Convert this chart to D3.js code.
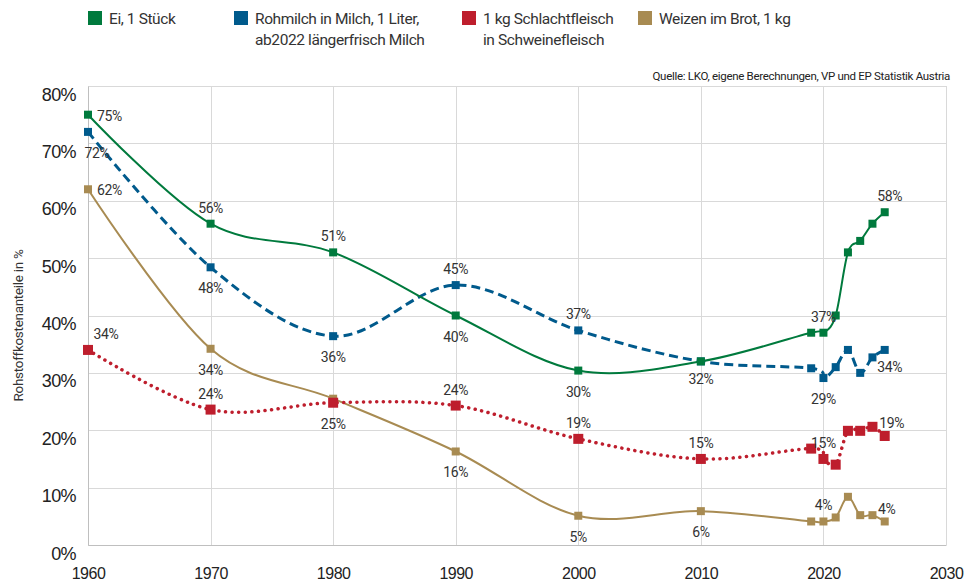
<html>
<head>
  <script src="https://cdnjs.cloudflare.com/ajax/libs/d3/7.8.5/d3.min.js"></script>
  <style>
    body { margin: 0; background: #fff; font-family: Roboto, "Noto Sans", sans-serif; }
    .grid line { stroke: #d9d9d9; shape-rendering: crispEdges; }
    .tick text { fill: #222; }
    .lbl { font-size: 14px; fill: #333; letter-spacing: -0.4px; }
  </style>
</head>
<body>
  <div id="chart"></div>
  <script>
    // data
    var years = [1960, 1970, 1980, 1990, 2000, 2010, 2019, 2020, 2021, 2022, 2023, 2024, 2025];
    var ei = [75, 56, 51, 40, 30.4, 32, 37, 37, 40, 51, 53, 56, 58];
    var milch = [72, 48.4, 36.4, 45.3, 37.4, 32, 30.8, 29.1, 31, 34, 30, 32.7, 34];
    var fleisch = [34, 23.6, 24.8, 24.3, 18.5, 15, 16.8, 15, 14, 19.9, 19.9, 20.6, 19];
    var weizen = [62, 34.2, 25.5, 16.3, 5.1, 5.9, 4.1, 4.1, 4.8, 8.4, 5.2, 5.2, 4.1];
    var xTicks = [1960, 1970, 1980, 1990, 2000, 2010, 2020, 2030];
    var yTicks = [0, 10, 20, 30, 40, 50, 60, 70, 80];

    // which points get a label, and where
    var eiLabels = [{i: 0, pos: "right"}, {i: 1, pos: "above"}, {i: 2, pos: "above"}, {i: 3, pos: "below"},
      {i: 4, pos: "below"}, {i: 7, pos: "above"}, {i: 12, pos: "above", dx: 5}];
    var milchLabels = [{i: 0, pos: "below", dx: 9}, {i: 1, pos: "below"}, {i: 2, pos: "below"}, {i: 3, pos: "above"},
      {i: 4, pos: "above"}, {i: 5, pos: "below", dy: -3}, {i: 7, pos: "below"}, {i: 12, pos: "below", dx: 5, dy: -4}];
    var fleischLabels = [{i: 0, pos: "above", dx: 18}, {i: 1, pos: "above"}, {i: 2, pos: "below"}, {i: 3, pos: "above"},
      {i: 4, pos: "above"}, {i: 5, pos: "above"}, {i: 7, pos: "above"}, {i: 12, pos: "above", dx: 7, dy: 3}];
    var weizenLabels = [{i: 0, pos: "right"}, {i: 1, pos: "below"}, {i: 3, pos: "below"}, {i: 4, pos: "below"},
      {i: 5, pos: "below"}, {i: 7, pos: "above"}, {i: 12, pos: "above", dx: 2, dy: 4}];

    var series = [
      {name: "Weizen im Brot, 1 kg", values: weizen, labels: weizenLabels, color: "#a88b52", dash: null, width: 2, size: 8},
      {name: "1 kg Schlachtfleisch|in Schweinefleisch", values: fleisch, labels: fleischLabels, color: "#be1e2d", dash: "0.1 6.5", width: 3.5, size: 10},
      {name: "Rohmilch in Milch, 1 Liter,|ab2022 längerfrisch Milch", values: milch, labels: milchLabels, color: "#005a8c", dash: "9 5", width: 3, size: 8},
      {name: "Ei, 1 Stück", values: ei, labels: eiLabels, color: "#007a3d", dash: null, width: 2, size: 8}
    ];

    var svgWidth = 973, svgHeight = 584;
    var margin = {top: 86, right: 27, bottom: 39, left: 88};
    var width = svgWidth - margin.left - margin.right;
    var height = svgHeight - margin.top - margin.bottom;

    var svg = d3.select("#chart").append("svg")
      .attr("width", svgWidth)
      .attr("height", svgHeight);
    var chart = svg.append("g")
      .attr("transform", "translate(" + margin.left + "," + margin.top + ")");

    var x = d3.scaleLinear().domain([1960, 2030]).range([0, width]);
    var y = d3.scaleLinear().domain([0, 80]).range([height, 0]);

    // grid
    chart.append("g").attr("class", "grid")
      .selectAll("line").data(xTicks).enter().append("line")
      .attr("x1", function(d) { return Math.round(x(d)) + 0.5; })
      .attr("x2", function(d) { return Math.round(x(d)) + 0.5; })
      .attr("y1", 0).attr("y2", height);
    chart.append("g").attr("class", "grid")
      .selectAll("line").data(yTicks).enter().append("line")
      .attr("x1", 0).attr("x2", width)
      .attr("y1", function(d) { return Math.round(y(d)) + 0.5; })
      .attr("y2", function(d) { return Math.round(y(d)) + 0.5; });

    // axes
    var xAxis = d3.axisBottom(x).tickValues(xTicks).tickFormat(d3.format("d")).tickSize(0).tickPadding(18);
    var yAxis = d3.axisLeft(y).tickValues(yTicks).tickFormat(function(d) { return d + "%"; }).tickSize(0).tickPadding(12);
    var gx = chart.append("g").attr("transform", "translate(0," + height + ")").call(xAxis);
    gx.select(".domain").attr("stroke", "#bfbfbf");
    gx.selectAll("text").style("font-size", "16px").style("letter-spacing", "-0.5px").attr("dy", "1em");
    var gy = chart.append("g").call(yAxis);
    gy.select(".domain").attr("stroke", "#bfbfbf");
    gy.selectAll("text").style("font-size", "18px").style("letter-spacing", "-0.6px").attr("dy", "0.78em");

    // y title
    svg.append("text")
      .attr("transform", "translate(23," + (margin.top + height / 2 + 10) + ") rotate(-90)")
      .attr("text-anchor", "middle")
      .style("font-size", "13.5px")
      .style("letter-spacing", "-0.3px")
      .style("fill", "#333")
      .text("Rohstoffkostenanteile in %");

    // source
    svg.append("text")
      .attr("x", 950).attr("y", 80)
      .attr("text-anchor", "end")
      .style("font-size", "11.5px")
      .style("letter-spacing", "-0.3px")
      .style("fill", "#222")
      .text("Quelle: LKO, eigene Berechnungen, VP und EP Statistik Austria");

    // lines
    var line = d3.line()
      .x(function(d, i) { return x(years[i]); })
      .y(function(d) { return y(d); })
      .curve(d3.curveCardinal.tension(0));

    series.forEach(function(s) {
      var g = chart.append("g");
      g.append("path")
        .attr("d", line(s.values))
        .attr("fill", "none")
        .attr("stroke", s.color)
        .attr("stroke-width", s.width)
        .attr("stroke-dasharray", s.dash)
        .attr("stroke-linecap", s.dash && s.dash.indexOf("0.1") === 0 ? "round" : "butt");
      g.selectAll("rect").data(s.values).enter().append("rect")
        .attr("x", function(d, i) { return x(years[i]) - s.size / 2; })
        .attr("y", function(d) { return y(d) - s.size / 2; })
        .attr("width", s.size).attr("height", s.size)
        .attr("fill", s.color);
    });

    // labels
    series.forEach(function(s) {
      chart.append("g").selectAll("text").data(s.labels).enter().append("text")
        .attr("class", "lbl")
        .attr("x", function(l) {
          var px = x(years[l.i]) + (l.dx || 0);
          return l.pos === "right" ? px + 9 : px;
        })
        .attr("y", function(l) {
          var py = y(s.values[l.i]) + (l.dy || 0);
          if (l.pos === "above") return py - 11;
          if (l.pos === "below") return py + 26;
          return py + 6;
        })
        .attr("text-anchor", function(l) { return l.pos === "right" ? "start" : "middle"; })
        .text(function(l) { return Math.round(s.values[l.i]) + "%"; });
    });

    // legend
    var legendX = [88, 234, 462, 638];
    var legendOrder = [3, 2, 1, 0];
    legendOrder.forEach(function(si, k) {
      var s = series[si];
      var lg = svg.append("g").attr("transform", "translate(" + legendX[k] + ",11)");
      lg.append("rect").attr("width", 14).attr("height", 14).attr("fill", s.color);
      s.name.split("|").forEach(function(t, j) {
        lg.append("text")
          .attr("x", 21).attr("y", 13 + j * 21)
          .style("font-size", "15.5px")
          .style("letter-spacing", "-0.4px")
          .style("fill", "#333")
          .text(t);
      });
    });
  </script>
</body>
</html>
